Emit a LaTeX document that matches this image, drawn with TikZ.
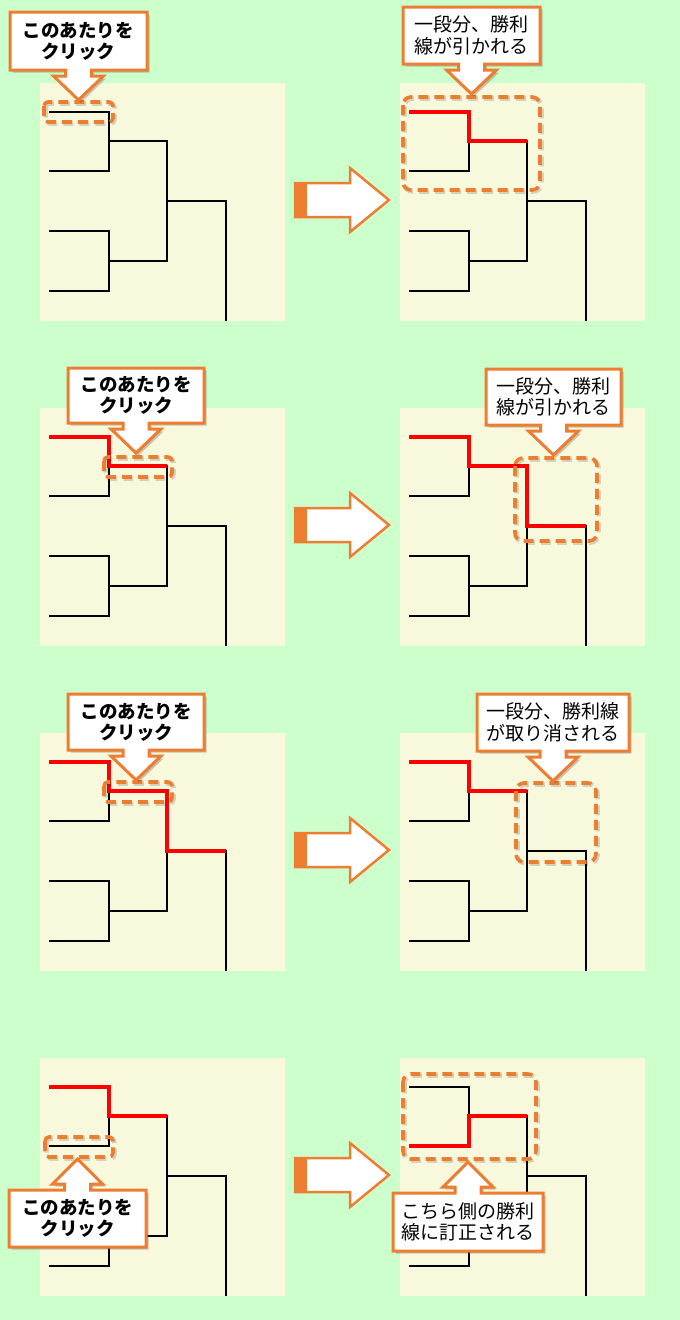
\documentclass[tikz,border=0pt]{standalone}
\usepackage{fontspec}
\newfontfamily\jp{Noto Sans CJK JP}
\usetikzlibrary{shadows}
\definecolor{bggreen}{HTML}{CCFFCC}
\definecolor{panelc}{HTML}{F8F9DC}
\definecolor{orng}{HTML}{ED7D31}
\tikzset{
  bline/.style={line width=1.1pt, black},
  rline/.style={line width=3.2pt, red, line join=miter},
  dbox/.style={draw=orng, line width=3.6pt, dash pattern=on 10pt off 6pt},
  dshadow/.style={draw=black, opacity=0.15, line width=4.5pt, dash pattern=on 10pt off 6pt},
  callout/.style={draw=orng, line width=3pt, fill=white, line join=miter,
    drop shadow={shadow xshift=2.5pt, shadow yshift=-2.5pt, opacity=0.3, fill=black!70}},
  ctext/.style={font=\jp\fontsize{19}{21.5}\selectfont, align=center, inner sep=0pt},
  btext/.style={ctext, font=\jp\bfseries\fontsize{18.5}{21}\selectfont},
  bigarr/.style={draw=orng, line width=2.5pt, fill=white, line join=miter},
}
\newcommand\bracketat[2]{%
  \begin{scope}[shift={(#1,#2)}]
    \fill[panelc] (0,0) rectangle (245,238);
    \draw[bline] (9,29) -| (69,88) -- (9,88);
    \draw[bline] (9,148) -| (69,208) -- (9,208);
    \draw[bline] (69,58) -| (127,178) -- (69,178);
    \draw[bline] (127,118) -| (186,238);
  \end{scope}}
\newcommand\redA[2]{\draw[rline,shift={(#1,#2)}] (9,29) -| (69,58) -- (127,58);}
\newcommand\redB[2]{\draw[rline,shift={(#1,#2)}] (9,29) -| (69,58) -| (127,118) -- (186,118);}
\newcommand\redC[2]{\draw[rline,shift={(#1,#2)}] (9,88) -| (69,58) -- (127,58);}
\newcommand\dashedbox[5]{%
  \draw[dshadow, rounded corners=#5] (#1+1.5,#2+1.5) rectangle (#3+1.5,#4+1.5);
  \draw[dbox, rounded corners=#5] (#1,#2) rectangle (#3,#4);}
\newcommand\bigarrow[1]{%
  \begin{scope}[shift={(0,#1)}]
    \draw[bigarr] (295,-17) -- (350,-17) -- (350,-32) -- (389,0) -- (350,32) -- (350,17) -- (295,17) -- cycle;
    \fill[orng] (294,-18.2) rectangle (307,18.2);
  \end{scope}}
% callout with pointer downwards: x1,y1,x2,y2,name,style,text
\newcommand\calloutdown[7]{%
  \path[callout] (#1,#2) -- (#3,#2) -- (#3,#4) -- ({(#1+#3)/2+13},#4) -- ({(#1+#3)/2+13},#4+6)
    -- ({(#1+#3)/2+25},#4+6) -- ({(#1+#3)/2},#4+30) -- ({(#1+#3)/2-25},#4+6)
    -- ({(#1+#3)/2-13},#4+6) -- ({(#1+#3)/2-13},#4) -- (#1,#4) -- cycle;
  \node[#6] (#5) at ({(#1+#3)/2},{(#2+#4)/2}) {#7};}
% callout with pointer upwards
\newcommand\calloutup[7]{%
  \path[callout] (#1,#4) -- (#3,#4) -- (#3,#2) -- ({(#1+#3)/2+13},#2) -- ({(#1+#3)/2+13},#2-6)
    -- ({(#1+#3)/2+25},#2-6) -- ({(#1+#3)/2},#2-31) -- ({(#1+#3)/2-25},#2-6)
    -- ({(#1+#3)/2-13},#2-6) -- ({(#1+#3)/2-13},#2) -- (#1,#2) -- cycle;
  \node[#6] (#5) at ({(#1+#3)/2},{(#2+#4)/2}) {#7};}
\begin{document}
\begin{tikzpicture}[x=1pt,y=-1pt]
  \fill[bggreen] (0,0) rectangle (680,1320);
  \useasboundingbox (0,0) rectangle (680,1320);
  % panels and brackets
  \bracketat{40}{83}   \bracketat{400}{83}
  \bracketat{40}{408}  \bracketat{400}{408}
  \bracketat{40}{733}  \bracketat{400}{733}
  \bracketat{40}{1058} \bracketat{400}{1058}
  % red winner lines
  \redA{400}{83}
  \redA{40}{408}  \redB{400}{408}
  \redB{40}{733}  \redA{400}{733}
  \redA{40}{1058} \redC{400}{1058}
  % dashed highlight boxes
  \dashedbox{44}{102}{113}{122}{4pt}
  \dashedbox{403}{97}{540}{190}{8pt}
  \dashedbox{104}{457}{172}{477}{4pt}
  \dashedbox{515}{458}{597}{541}{8pt}
  \dashedbox{104}{782}{172}{802}{4pt}
  \dashedbox{516}{783}{596}{862}{8pt}
  \dashedbox{45}{1137}{113}{1157}{4pt}
  \dashedbox{403}{1074}{536}{1159}{8pt}
  % arrows between panels
  \bigarrow{200} \bigarrow{525} \bigarrow{850} \bigarrow{1175}
  % callouts
  \calloutdown{10}{12}{147}{70}{c1l}{btext}{このあたりを\\クリック}
  \calloutdown{403}{7}{540}{64}{c1r}{ctext}{一段分、勝利\\線が引かれる}
  \calloutdown{68}{368}{204}{423}{c2l}{btext}{このあたりを\\クリック}
  \calloutdown{486}{369}{621}{425}{c2r}{ctext}{一段分、勝利\\線が引かれる}
  \calloutdown{68}{694}{204}{750}{c3l}{btext}{このあたりを\\クリック}
  \calloutdown{477}{694}{629}{751}{c3r}{ctext}{一段分、勝利線\\が取り消される}
  \calloutup{9}{1190}{146}{1247}{c4l}{btext}{このあたりを\\クリック}
  \calloutup{393}{1193}{543}{1251}{c4r}{ctext}{こちら側の勝利\\線に訂正される}
\end{tikzpicture}
\end{document}
